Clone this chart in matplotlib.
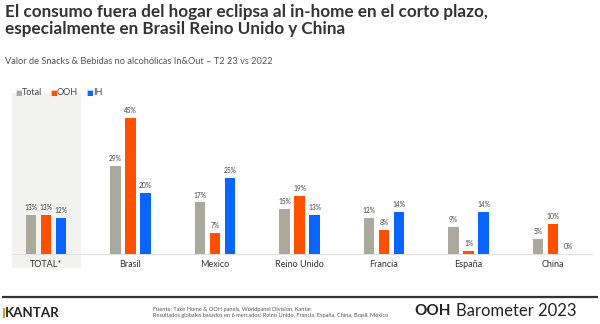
import numpy as np
import matplotlib as mpl
import matplotlib.pyplot as plt
from matplotlib.patches import Rectangle

categories = ['TOTAL*', 'Brasil', 'Mexico', 'Reino Unido', 'Francia', 'España', 'China']
total = [13, 29, 17, 15, 12, 9, 5]
ooh = [13, 45, 7, 19, 8, 1, 10]
ih = [12, 20, 25, 13, 14, 14, 0]
series_names = ['Total', 'OOH', 'IH']
colors = ['#a9a99c', '#ff5000', '#0a64ff']

plt.rcParams['font.family'] = ['Lato', 'DejaVu Sans']

W, H = 600, 324
fig = plt.figure(figsize=(6, 3.24), dpi=100)
fig.patch.set_facecolor('white')

def px(x, y):
    return x / W, 1 - y / H

ax_l, ax_b = px(12, 254)
ax_r, ax_t = px(592, 95)
ax = fig.add_axes([ax_l, ax_b, ax_r - ax_l, ax_t - ax_b])
ax.set_facecolor('none')

# shaded total column
x0, y0 = px(12, 268)
x1, y1 = px(81, 93)
ax.add_patch(Rectangle((x0, y0), x1 - x0, y1 - y0, transform=fig.transFigure,
                       facecolor='#f2f2f0', edgecolor='none', zorder=0, clip_on=False))

x = np.arange(len(categories))
w = 0.124
step = 0.1775
ax.set_xlim((12 - 46) / 84.5, (592 - 46) / 84.5)
ax.set_ylim(0, (254 - 95) / 3.03)

for k, (vals, c) in enumerate(zip([total, ooh, ih], colors)):
    pos = x + (k - 1) * step
    ax.bar(pos, vals, width=w, color=c, zorder=2)
    for xi, v in zip(pos, vals):
        ax.text(xi, v + 1.3, f'{v}%', ha='center', va='bottom', fontsize=4.8,
                color='#444444', zorder=3)

for s in ['top', 'right', 'left']:
    ax.spines[s].set_visible(False)
ax.spines['bottom'].set_color('#e0e0e0')
ax.spines['bottom'].set_linewidth(0.8)
ax.spines['bottom'].set_zorder(1)
ax.set_yticks([])
ax.set_xticks(x)
ax.set_xticklabels(categories, fontsize=6.5, color='#333333')
ax.tick_params(axis='x', length=0, pad=4)

# legend
lx = [15, 50, 86]
for name, c, xx in zip(series_names, colors, lx):
    a, b = px(xx, 92.5)
    fig.text(a, b, '\u25a0', fontsize=5, color=c, va='center', ha='left')
    fig.text(a + 7 / W, b, name, fontsize=6.5, color='#444444', va='center', ha='left')

# titles
a, b = px(5, 12)
fig.text(a, b, 'El consumo fuera del hogar eclipsa al in-home en el corto plazo,',
         fontsize=12.3, fontweight='bold', color='#333333', va='center', ha='left')
a, b = px(5, 29)
fig.text(a, b, 'especialmente en Brasil Reino Unido y China',
         fontsize=12.3, fontweight='bold', color='#333333', va='center', ha='left')
a, b = px(5, 62)
fig.text(a, b, 'Valor de Snacks & Bebidas no alcohólicas In&Out \u2013 T2 23 vs 2022',
         fontsize=6.7, color='#555555', va='center', ha='left')

# footer
fig.add_artist(plt.Line2D([3 / W, 597 / W], [1 - 297 / H] * 2, transform=fig.transFigure,
                          color='#333333', lw=1.6))
a, b = px(3, 313)
fig.patches.append(Rectangle((a, b - 5 / H), 1.5 / W, 10 / H, transform=fig.transFigure,
                             facecolor='#c9a227', edgecolor='none'))
fig.text(a + 2 / W, b, 'KANTAR', fontsize=9.6, fontweight='bold', color='#222222',
         va='center', ha='left')
a, b = px(153, 309)
fig.text(a, b, 'Fuente: Take Home & OOH panels, Worldpanel Division, Kantar',
         fontsize=4.1, color='#555555', va='center', ha='left')
a, b = px(153, 315.5)
fig.text(a, b, 'Resultados globales basados en 6 mercados: Reino Unido, Francia, España, China, Brasil, México',
         fontsize=4.1, color='#555555', va='center', ha='left')
a, b = px(451, 311)
fig.text(a, b, 'OOH', fontsize=11, fontweight='bold', color='#222222', va='center', ha='right')
a, b = px(577, 311)
fig.text(a, b, 'Barometer 2023', fontsize=12, color='#222222', va='center', ha='right')

fig.savefig('out.png', dpi=100)
